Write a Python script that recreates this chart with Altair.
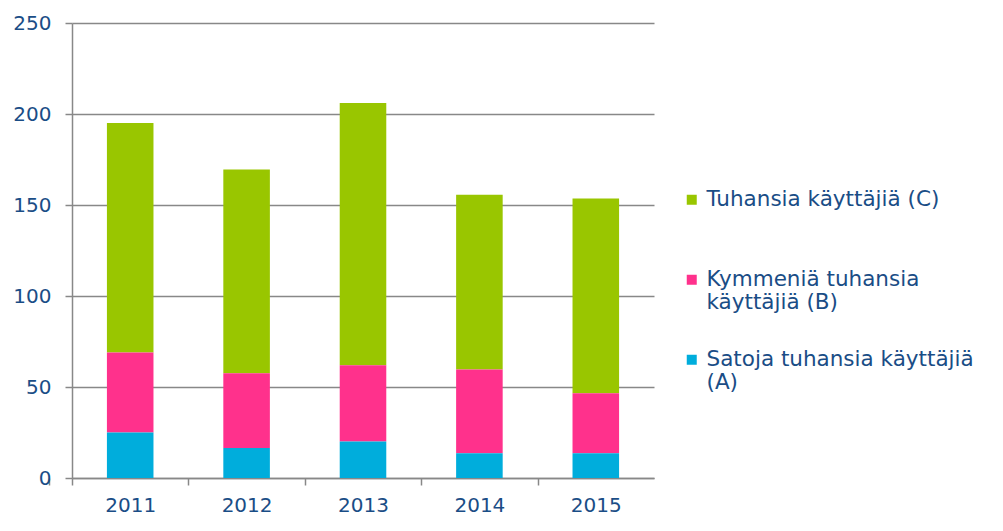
import altair as alt
import pandas as pd

years = ["2011", "2012", "2013", "2014", "2015"]
series = ["Tuhansia käyttäjiä (C)", "Kymmeniä tuhansia|käyttäjiä (B)", "Satoja tuhansia käyttäjiä|(A)"]
stack_rank = [2, 1, 0]
val_A = [25, 16.5, 20, 13.6, 13.6]
val_B = [44, 41, 42, 46, 33]
val_C = [126, 112, 144, 96, 107]
colors = ["#99C600", "#FF318C", "#00ADDC"]

rows = []
for i, y in enumerate(years):
    for s, r, vals in zip(series, stack_rank, [val_C, val_B, val_A]):
        rows.append({"year": y, "series": s, "rank": r, "value": vals[i]})
df = pd.DataFrame(rows)

TXT = "#1A4D86"
GRID = "#888888"
FONT = "DejaVu Sans"
HALF_STEP = 58.2

chart = alt.Chart(df).mark_bar().encode(
    x=alt.X("year:O", title=None,
            scale=alt.Scale(paddingInner=0.6, paddingOuter=0.3),
            axis=alt.Axis(labelAngle=0, tickOffset=-HALF_STEP, labelOffset=HALF_STEP,
                          tickExtra=True, domainColor=GRID, tickColor=GRID,
                          tickSize=7, tickWidth=1.5, labelPadding=10, labelColor=TXT,
                          labelFontSize=20, labelFont=FONT, domainWidth=1.5)),
    y=alt.Y("value:Q", title=None, stack="zero",
            scale=alt.Scale(domain=[0, 250], nice=False),
            axis=alt.Axis(values=[0, 50, 100, 150, 200, 250], grid=True, gridColor=GRID,
                          gridWidth=1.5, domainColor=GRID, tickColor=GRID, tickSize=7,
                          labelPadding=14, labelColor=TXT, labelFontSize=20, labelFont=FONT,
                          domainWidth=1.5, tickWidth=1.5)),
    color=alt.Color("series:N", title=None,
                    scale=alt.Scale(domain=series, range=colors),
                    legend=alt.Legend(orient="none", legendX=609, legendY=166,
                                      symbolType="square", symbolSize=100, symbolStrokeWidth=0,
                                      labelExpr="split(datum.label, '|')",
                                      labelFontSize=21.5, labelFont=FONT, labelColor=TXT,
                                      labelLimit=400, labelOffset=4, rowPadding=34,
                                      gridAlign="all")),
    order=alt.Order("rank:Q", sort="ascending"),
).properties(
    width=582, height=455,
    autosize=alt.AutoSizeParams(type="none"),
    padding={"left": 64, "top": 15, "right": 341, "bottom": 45},
).configure_view(stroke=None)

chart.save("out.html", embed_options={"renderer": "svg", "actions": False})
